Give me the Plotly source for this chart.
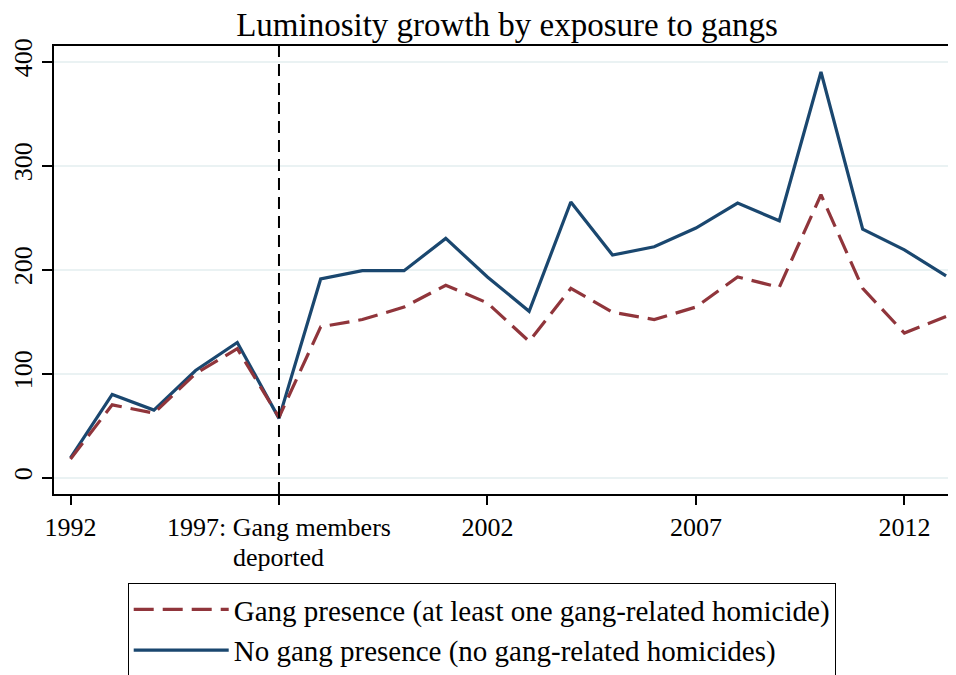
import plotly.graph_objects as go

years = list(range(1992, 2014))
gang = [18, 70, 62, 100, 124, 58, 145, 152, 164, 185, 168, 131, 182, 159, 152, 164, 193, 183, 272, 182, 139, 155]
no_gang = [19, 80, 65, 103, 130, 57, 191, 199, 199, 230, 193, 160, 265, 214, 222, 240, 264, 247, 390, 239, 219, 194]
tick_vals = [1992, 1997, 2002, 2007, 2012]
tick_text = ["1992", "1997: Gang members", "2002", "2007", "2012"]
event_year = 1997
event_note = "deported"
y_ticks = [0, 100, 200, 300, 400]

BLUE = "#1a476f"
RED = "#90353b"
FONT = "Liberation Serif"

fig = go.Figure()
fig.add_trace(go.Scatter(x=years, y=no_gang, mode="lines", name="No gang presence (no gang-related homicides)",
                         line=dict(color=BLUE, width=3.2), legendgroup="b", legendrank=2))
fig.add_trace(go.Scatter(x=years, y=gang, mode="lines", name="Gang presence (at least one gang-related homicide)",
                         line=dict(color=RED, width=3.2, dash="20px,9px"), legendgroup="a", legendrank=1))

fig.add_shape(type="line", xref="x", yref="paper", x0=event_year, x1=event_year, y0=0, y1=1,
              line=dict(color="black", width=2, dash="12px,7px"), layer="above")
fig.add_annotation(x=event_year, xref="x", y=-0.142, yref="paper", text=event_note, showarrow=False,
                   xanchor="center", yanchor="middle", font=dict(family=FONT, size=26, color="black"))

fig.update_layout(
    width=956, height=675,
    margin=dict(l=46, r=0, t=38, b=189),
    paper_bgcolor="white", plot_bgcolor="white",
    font=dict(family=FONT, size=26, color="black"),
    title=dict(text="Luminosity growth by exposure to gangs", x=0.522, xanchor="center", xref="container",
               y=0.975, yanchor="middle", yref="container", font=dict(family=FONT, size=33, color="black")),
    showlegend=True,
    legend=dict(x=0.081, y=-0.1987, xanchor="left", yanchor="top", bordercolor="black", borderwidth=1,
                font=dict(family=FONT, size=29), itemwidth=95, traceorder="grouped",
                tracegroupgap=0, bgcolor="white"),
    xaxis=dict(range=[1991.604, 2013.43], tickvals=tick_vals, ticktext=tick_text, showgrid=False,
               showline=True, linecolor="black", linewidth=1.5, mirror=True, ticks="outside",
               ticklen=9, tickcolor="black", tickwidth=1.5, zeroline=False),
    yaxis=dict(range=[-15.7, 415], tickvals=y_ticks, showgrid=True, gridcolor="#eaf2f3", gridwidth=2,
               showline=True, linecolor="black", linewidth=1.5, ticks="outside", ticklen=10,
               tickcolor="black", tickwidth=1.5, tickangle=-90, zeroline=False),
)

fig.write_html("out.html")
